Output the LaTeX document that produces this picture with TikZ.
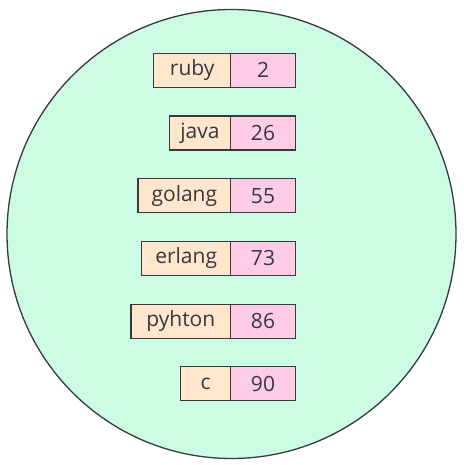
\documentclass[tikz,border=0pt]{standalone}
\usepackage{fontspec}
\setmainfont{Open Sans}
\usetikzlibrary{positioning}
\definecolor{mint}{HTML}{CCFCE4}
\definecolor{peach}{HTML}{FFE6CC}
\definecolor{pinkval}{HTML}{FFCCE6}
\definecolor{edge}{HTML}{36393D}
\begin{document}
\begin{tikzpicture}
[x=1pt, y=-1pt,
set/.style ={circle, draw=edge, fill=mint, line width=1.3pt,
minimum size=449pt, inner sep=0pt},
key/.style ={rectangle, draw=edge, fill=peach, line width=1.4pt,
minimum height=34pt, inner sep=0pt, align=center,
font=\fontsize{21}{24}\selectfont, text=edge},
val/.style ={key, fill=pinkval, minimum width=64.6pt}]
\useasboundingbox (0,0) rectangle (463,465);
\node [set] (zset) at (231.5,234) {};
% scores
\node [val] (v1) at (263,70.3) {2};
\node [val] (v2) at (263,133) {26};
\node [val] (v3) at (263,195.7) {55};
\node [val] (v4) at (263,258.3) {73};
\node [val] (v5) at (263,321.2) {86};
\node [val] (v6) at (263,383.7) {90};
% members
\node [key, minimum width=77pt, left=-1.4pt of v1] (ruby) {ruby};
\node [key, minimum width=61.4pt, left=-1.4pt of v2] (java) {java};
\node [key, minimum width=92.7pt, left=-1.4pt of v3] (golang) {golang};
\node [key, minimum width=89pt, left=-1.4pt of v4] (erlang) {erlang};
\node [key, minimum width=99.7pt, left=-1.4pt of v5] (pyhton) {pyhton};
\node [key, minimum width=50pt, left=-1.4pt of v6] (c) {c};
\end{tikzpicture}
\end{document}
